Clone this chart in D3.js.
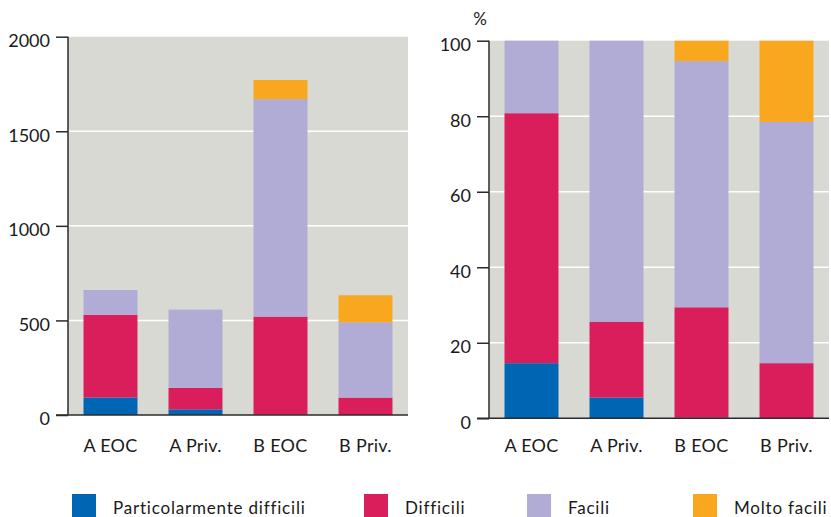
<!DOCTYPE html>
<html>
<head>
<meta charset="utf-8">
<script src="https://cdn.jsdelivr.net/npm/d3@7"></script>
<style>
  html, body { margin: 0; padding: 0; background: #ffffff; }
  svg { display: block; }
  text { font-family: Lato, "Open Sans", sans-serif; fill: #1a1a1a; }
</style>
</head>
<body>
<svg id="chart" width="831" height="517"></svg>
<script>
// ---- Data ----
const categories = ["A EOC", "A Priv.", "B EOC", "B Priv."];
const seriesNames = ["Particolarmente difficili", "Difficili", "Facili", "Molto facili"];
const seriesColors = ["#0065b2", "#da1e5c", "#b0acd5", "#f8a71e"];

// Left panel: absolute counts
const countsPartDiff = [93, 30, 2, 0];
const countsDiff     = [436, 113, 518, 92];
const countsFacili   = [132, 414, 1150, 398];
const countsMolto    = [0, 0, 101, 143];
const countTicks = [0, 500, 1000, 1500, 2000];

// Right panel: percentages
const pctPartDiff = [14.6, 5.5, 0.2, 0];
const pctDiff     = [66.2, 20.0, 29.2, 14.6];
const pctFacili   = [19.2, 74.5, 65.2, 63.9];
const pctMolto    = [0, 0, 5.4, 21.5];
const pctTicks = [0, 20, 40, 60, 80, 100];

// ---- Drawing ----
const svg = d3.select("#chart");
const bg = "#d9d9d4";
const axisColor = "#2b2b2b";

function buildRows(a, b, c, d) {
  return categories.map((cat, i) => ({
    cat: cat,
    [seriesNames[0]]: a[i],
    [seriesNames[1]]: b[i],
    [seriesNames[2]]: c[i],
    [seriesNames[3]]: d[i]
  }));
}

function panel(cfg) {
  const g = svg.append("g");
  const x = d3.scaleBand().domain(categories).range([cfg.x0, cfg.x1])
    .paddingInner(0.365).paddingOuter(0.1825);
  const y = d3.scaleLinear().domain(cfg.domain).range([cfg.yBottom, cfg.yTop]);

  // background
  g.append("rect")
    .attr("x", cfg.x0).attr("y", y(cfg.domain[1]))
    .attr("width", cfg.x1 - cfg.x0).attr("height", y(cfg.domain[0]) - y(cfg.domain[1]))
    .attr("fill", bg);

  // gridlines
  g.selectAll("line.grid").data(cfg.ticks.slice(1, -1)).join("line")
    .attr("class", "grid")
    .attr("x1", cfg.x0).attr("x2", cfg.x1)
    .attr("y1", d => y(d)).attr("y2", d => y(d))
    .attr("stroke", "#ffffff").attr("stroke-width", 1.5);

  // stacked bars
  const stack = d3.stack().keys(seriesNames);
  const layers = stack(cfg.rows);
  g.selectAll("g.layer").data(layers).join("g")
    .attr("class", "layer")
    .attr("fill", (d, i) => seriesColors[i])
    .selectAll("rect").data(d => d).join("rect")
    .attr("x", d => x(d.data.cat))
    .attr("width", x.bandwidth())
    .attr("y", d => y(d[1]))
    .attr("height", d => Math.max(0, y(d[0]) - y(d[1])));

  // y axis
  const yAxis = d3.axisLeft(y).tickValues(cfg.ticks).tickSize(12).tickPadding(cfg.tickPad)
    .tickFormat(d3.format("d"));
  const ya = g.append("g").attr("transform", `translate(${cfg.x0},0)`).call(yAxis);
  ya.select(".domain").remove();
  ya.selectAll(".tick line").attr("stroke", axisColor).attr("stroke-width", 1.5);
  ya.selectAll(".tick text")
    .attr("font-size", 18).attr("dy", "0.55em")
    .style("font-family", "Lato, sans-serif").attr("fill", "#1a1a1a");
  // vertical axis line
  g.append("line")
    .attr("x1", cfg.x0).attr("x2", cfg.x0)
    .attr("y1", y(cfg.domain[1])).attr("y2", y(cfg.domain[0]))
    .attr("stroke", axisColor).attr("stroke-width", 1.5);
  // baseline
  g.append("line")
    .attr("x1", cfg.x0 - 12).attr("x2", cfg.x1)
    .attr("y1", y(0)).attr("y2", y(0))
    .attr("stroke", axisColor).attr("stroke-width", 1.5);

  // x labels
  g.selectAll("text.xlab").data(categories).join("text")
    .attr("class", "xlab")
    .attr("x", d => x(d) + x.bandwidth() / 2)
    .attr("y", 452)
    .attr("text-anchor", "middle")
    .attr("font-size", 18)
    .attr("letter-spacing", 0.3)
    .text(d => d);

  return { x, y };
}

panel({
  x0: 68, x1: 408, yTop: 36.7, yBottom: 415,
  domain: [0, 2000], ticks: countTicks, tickPad: 6,
  rows: buildRows(countsPartDiff, countsDiff, countsFacili, countsMolto)
});

panel({
  x0: 489, x1: 829, yTop: 40.7, yBottom: 418.3,
  domain: [0, 100], ticks: pctTicks, tickPad: 6,
  rows: buildRows(pctPartDiff, pctDiff, pctFacili, pctMolto)
});

// % unit label
svg.append("text").attr("x", 480).attr("y", 25).attr("text-anchor", "middle")
  .attr("font-size", 17).text("%");

// legend
const legendX = [72, 364, 527, 693];
const legend = svg.append("g");
const items = legend.selectAll("g").data(seriesNames).join("g")
  .attr("transform", (d, i) => `translate(${legendX[i]},494)`);
items.append("rect").attr("width", 24).attr("height", 24)
  .attr("fill", (d, i) => seriesColors[i]);
items.append("text").attr("x", 41).attr("y", 20)
  .attr("font-size", 17).attr("letter-spacing", 0.8)
  .text(d => d);
</script>
</body>
</html>
